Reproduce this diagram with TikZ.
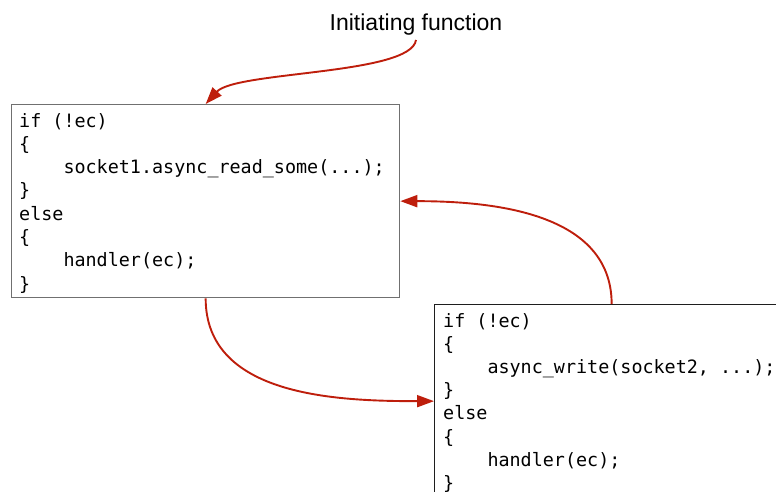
\documentclass[tikz,border=0pt]{standalone}
\usepackage{fontspec}
\usetikzlibrary{arrows.meta}
\newfontfamily\labelfont{Liberation Sans}
\newfontfamily\codefont{DejaVu Sans Mono}
\definecolor{flowred}{RGB}{190,30,12}
\definecolor{lightframe}{RGB}{112,112,112}
\definecolor{darkframe}{RGB}{30,30,30}
\newcommand\ind{\phantom{xxxx}}
\tikzset{
  codebox/.style={rectangle, inner sep=0pt, minimum width=388pt, minimum height=193pt, anchor=north west},
  codeline/.style={anchor=base west, inner sep=0pt, font=\codefont\fontsize{18.4}{23}\selectfont},
  flow/.style={draw=flowred, line width=1.9pt, -{Triangle[length=17pt,width=12pt]}},
  caption/.style={font=\labelfont\fontsize{23}{27}\selectfont, anchor=base, inner sep=5pt}
}
\begin{document}
\begin{tikzpicture}[x=1pt,y=-1pt]
  \useasboundingbox (0,0) rectangle (776,491);
  \clip (0,0) rectangle (776,491);

  % caption
  \node[caption] (title) at (416,30) {Initiating function};

  % first handler body
  \node[codebox, draw=lightframe, line width=1.3pt] (box1) at (11,104) {};
  \node[codeline] (l1) at ([shift={(8,23)}]box1.north west) {if (!ec)};
  \node[codeline] (l2) at ([shift={(8,46.3)}]box1.north west) {\{};
  \node[codeline] (l3) at ([shift={(8,69.6)}]box1.north west) {\ind socket1.async\_read\_some(...);};
  \node[codeline] (l4) at ([shift={(8,92.9)}]box1.north west) {\}};
  \node[codeline] (l5) at ([shift={(8,116.2)}]box1.north west) {else};
  \node[codeline] (l6) at ([shift={(8,139.5)}]box1.north west) {\{};
  \node[codeline] (l7) at ([shift={(8,162.8)}]box1.north west) {\ind handler(ec);};
  \node[codeline] (l8) at ([shift={(8,186.1)}]box1.north west) {\}};

  % second handler body (runs past the page edge)
  \node[codebox, minimum width=354pt, draw=darkframe, line width=1.3pt] (box2) at (434,304) {};
  \node[codeline] (r1) at ([shift={(9,23)}]box2.north west) {if (!ec)};
  \node[codeline] (r2) at ([shift={(9,46.2)}]box2.north west) {\{};
  \node[codeline] (r3) at ([shift={(9,69.4)}]box2.north west) {\ind async\_write(socket2, ...);};
  \node[codeline] (r4) at ([shift={(9,92.6)}]box2.north west) {\}};
  \node[codeline] (r5) at ([shift={(9,115.8)}]box2.north west) {else};
  \node[codeline] (r6) at ([shift={(9,139.0)}]box2.north west) {\{};
  \node[codeline] (r7) at ([shift={(9,162.2)}]box2.north west) {\ind handler(ec);};
  \node[codeline] (r8) at ([shift={(9,185.4)}]box2.north west) {\}};

  % control flow
  \draw[flow] (title.south) .. controls +(-5,35) and +(30,-33) .. (box1.north);
  \draw[flow] (box1.south) to[out=-90, in=180] (box2.west);
  \draw[flow] (box2.north) to[out=90, in=0] (box1.east);
\end{tikzpicture}
\end{document}
